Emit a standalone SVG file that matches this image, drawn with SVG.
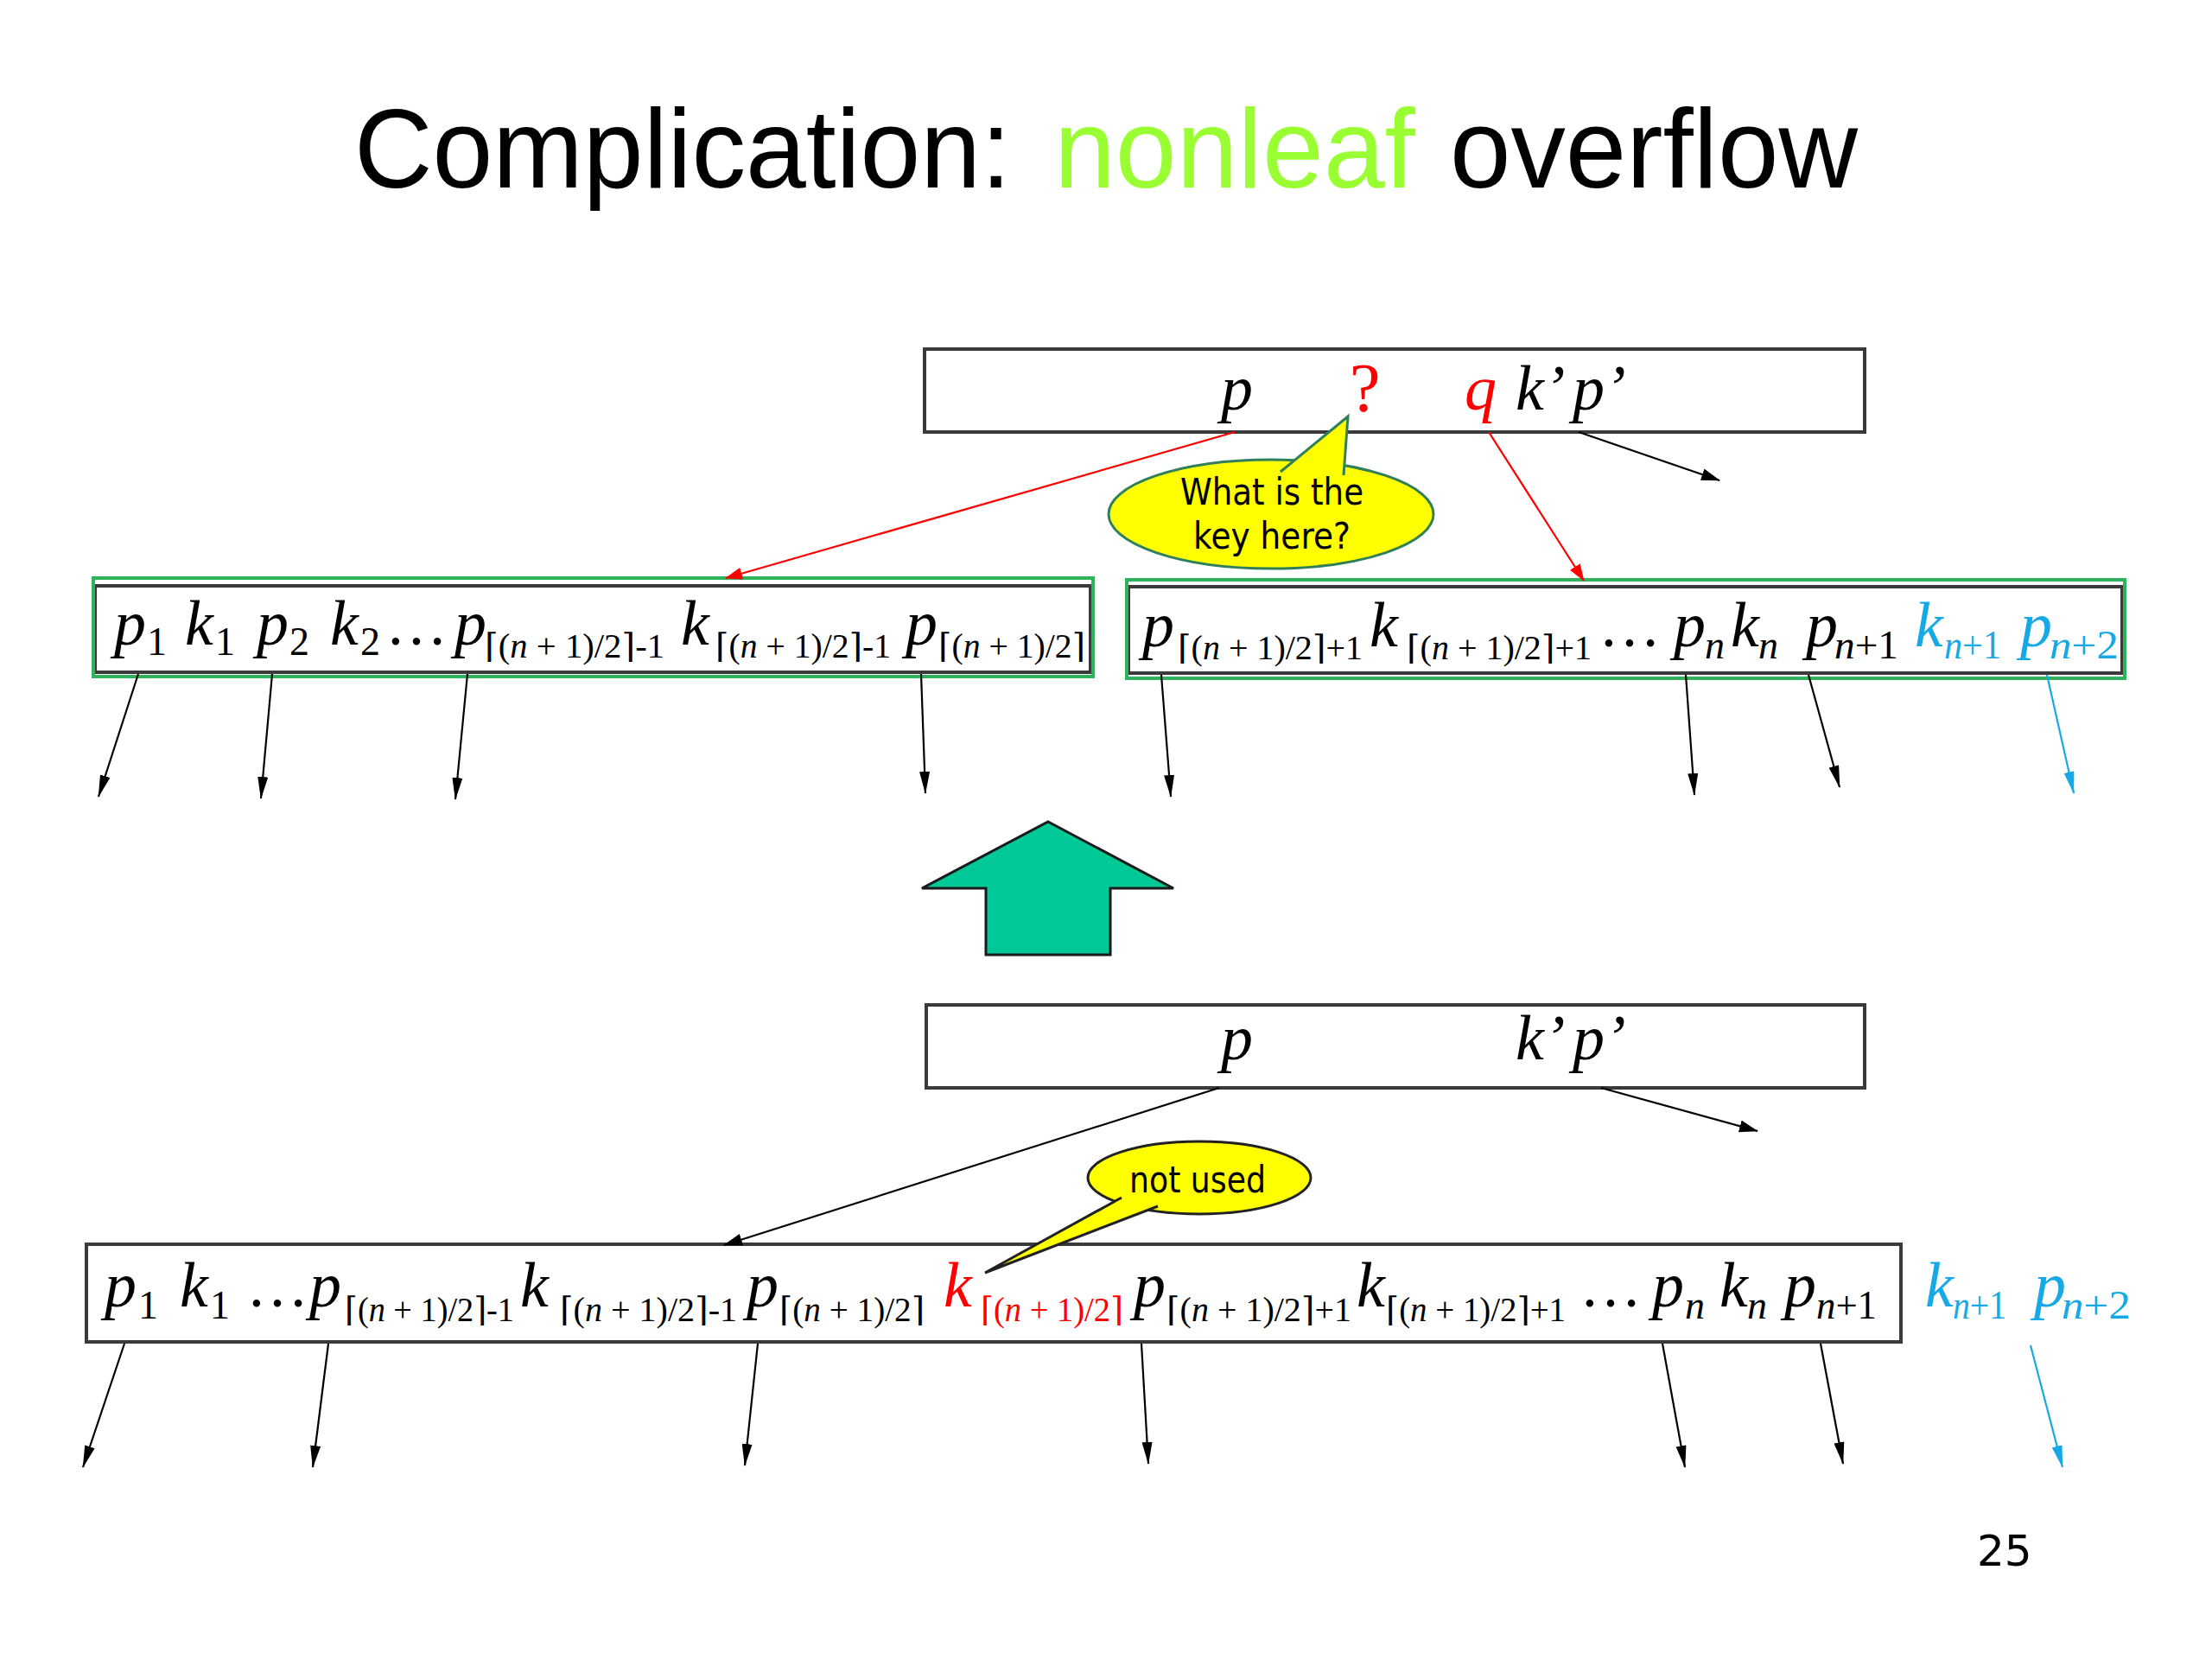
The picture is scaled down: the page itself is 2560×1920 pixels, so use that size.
<svg xmlns="http://www.w3.org/2000/svg" width="2560" height="1920" viewBox="0 0 2560 1920">
<style>
.bg{fill:#fff}
.title{font-family:"Liberation Sans","DejaVu Sans",sans-serif;font-size:130px;fill:#000}
.mi{font-family:"Liberation Serif","DejaVu Serif",serif;font-style:italic;font-size:74px;fill:#000}
.mu{font-family:"Liberation Serif","DejaVu Serif",serif;font-style:normal;font-size:72px;fill:#000}
.sb{font-family:"Liberation Serif","DejaVu Serif",serif;font-style:normal;font-size:39px;fill:#000}
.s1{font-family:"Liberation Serif","DejaVu Serif",serif;font-style:normal;font-size:46px;fill:#000}
.it{font-style:italic}
.red{fill:#ff0000}
.blue{fill:#17a9e6}
.box{fill:#fff;stroke:#3a3a3a;stroke-width:4}
.gbox{fill:none;stroke:#2db35a;stroke-width:4}
.bub{font-family:"DejaVu Sans","Noto Sans",sans-serif;font-size:43px;fill:#000}
.ln{stroke:#000;stroke-width:2.2;fill:none}
.lr{stroke:#ff0000;stroke-width:2.2;fill:none}
.lb{stroke:#17a9e6;stroke-width:2.2;fill:none}
</style>
<defs>
<marker id="ab" viewBox="0 0 26 12" refX="25" refY="6" markerWidth="26" markerHeight="12" markerUnits="userSpaceOnUse" orient="auto"><path d="M0,0 L26,6 L0,12 z" fill="#000"/></marker>
<marker id="ab2" viewBox="0 0 22 14" refX="21" refY="7" markerWidth="22" markerHeight="14" markerUnits="userSpaceOnUse" orient="auto"><path d="M0,0 L22,7 L0,14 z" fill="#000"/></marker>
<marker id="ar" viewBox="0 0 20 14" refX="19" refY="7" markerWidth="20" markerHeight="14" markerUnits="userSpaceOnUse" orient="auto"><path d="M0,0 L20,7 L0,14 z" fill="#ff0000"/></marker>
<marker id="abl" viewBox="0 0 26 12" refX="25" refY="6" markerWidth="26" markerHeight="12" markerUnits="userSpaceOnUse" orient="auto"><path d="M0,0 L26,6 L0,12 z" fill="#17a9e6"/></marker>
</defs>
<rect class="bg" x="0" y="0" width="2560" height="1920"/>

<g id="title">
<text class="title" x="410" y="217" textLength="760" lengthAdjust="spacingAndGlyphs">Complication:</text>
<text class="title" x="1220" y="217" textLength="418" lengthAdjust="spacingAndGlyphs" style="fill:#99ff33">nonleaf</text>
<text class="title" x="1678" y="217" textLength="472" lengthAdjust="spacingAndGlyphs">overflow</text>
</g>

<g id="top-parent">
<rect class="box" x="1070" y="404" width="1088" height="96"/>
<text class="mi" x="1413" y="474">p</text>
<text class="mu red" x="1562" y="476" style="font-size:80px">?</text>
<text class="mi red" x="1695" y="474">q</text>
<text class="mi" x="1754" y="474">k’</text>
<text class="mi" x="1820" y="474">p’</text>
</g>

<g id="bubble-key">
<ellipse cx="1471" cy="595" rx="188" ry="63" fill="#ffff00" stroke="#2f7f5a" stroke-width="3"/>
<path d="M1482,546 L1560,482 L1555,550" fill="#ffff00" stroke="#2f7f5a" stroke-width="3"/>
<text class="bub" x="1366" y="584" textLength="212" lengthAdjust="spacingAndGlyphs">What is the</text>
<text class="bub" x="1381" y="635" textLength="182" lengthAdjust="spacingAndGlyphs">key here?</text>
</g>

<g id="mid-left">
<rect class="box" x="110" y="678" width="1152" height="100"/>
<rect class="gbox" x="108" y="669" width="1157" height="114"/>
<text class="mi" x="132" y="746">p</text><text class="s1" x="170" y="758">1</text>
<text class="mi" x="214" y="746">k</text><text class="s1" x="249" y="758">1</text>
<text class="mi" x="297" y="746">p</text><text class="s1" x="335" y="758">2</text>
<text class="mi" x="382" y="746">k</text><text class="s1" x="417" y="758">2</text>
<text class="mu" x="446" y="746">…</text>
<text class="mi" x="526" y="746">p</text><text class="sb" x="561" y="761" textLength="208" lengthAdjust="spacingAndGlyphs">⌈(<tspan class="it">n</tspan> + 1)/2⌉-1</text>
<text class="mi" x="788" y="746">k</text><text class="sb" x="828" y="761" textLength="203" lengthAdjust="spacingAndGlyphs">⌈(<tspan class="it">n</tspan> + 1)/2⌉-1</text>
<text class="mi" x="1048" y="746">p</text><text class="sb" x="1086" y="761" textLength="170" lengthAdjust="spacingAndGlyphs">⌈(<tspan class="it">n</tspan> + 1)/2⌉</text>
</g>

<g id="mid-right">
<rect class="box" x="1306" y="679" width="1150" height="100"/>
<rect class="gbox" x="1304" y="671" width="1155" height="114"/>
<text class="mi" x="1322" y="748">p</text><text class="sb" x="1363" y="763" textLength="214" lengthAdjust="spacingAndGlyphs">⌈(<tspan class="it">n</tspan> + 1)/2⌉+1</text>
<text class="mi" x="1585" y="748">k</text><text class="sb" x="1628" y="763" textLength="214" lengthAdjust="spacingAndGlyphs">⌈(<tspan class="it">n</tspan> + 1)/2⌉+1</text>
<text class="mu" x="1850" y="748">…</text>
<text class="mi" x="1937" y="748">p</text><text class="s1 it" x="1973" y="762">n</text>
<text class="mi" x="2003" y="748">k</text><text class="s1 it" x="2035" y="762">n</text>
<text class="mi" x="2090" y="748">p</text><text class="s1" x="2123" y="762" textLength="74" lengthAdjust="spacingAndGlyphs"><tspan class="it">n</tspan>+1</text>
<text class="mi blue" x="2216" y="748">k</text><text class="s1 blue" x="2250" y="762" textLength="66" lengthAdjust="spacingAndGlyphs"><tspan class="it">n</tspan>+1</text>
<text class="mi blue" x="2338" y="748">p</text><text class="s1 blue" x="2372" y="762" textLength="80" lengthAdjust="spacingAndGlyphs"><tspan class="it">n</tspan>+2</text>
</g>

<g id="up-arrow">
<polygon points="1213,951 1358,1028 1285,1028 1285,1105 1141,1105 1141,1028 1067,1028" fill="#00c896" stroke="#1a1a1a" stroke-width="3" stroke-linejoin="miter"/>
</g>

<g id="bottom-parent">
<rect class="box" x="1072" y="1163" width="1086" height="96"/>
<text class="mi" x="1413" y="1226">p</text>
<text class="mi" x="1754" y="1226">k’</text>
<text class="mi" x="1820" y="1226">p’</text>
</g>

<g id="bottom-node">
<rect class="box" x="100" y="1440" width="2100" height="113"/>
<text class="mi" x="121" y="1512">p</text><text class="s1" x="160" y="1526">1</text>
<text class="mi" x="208" y="1512">k</text><text class="s1" x="243" y="1526">1</text>
<text class="mu" x="285" y="1512">…</text>
<text class="mi" x="358" y="1512">p</text><text class="sb" x="399" y="1529" textLength="196" lengthAdjust="spacingAndGlyphs">⌈(<tspan class="it">n</tspan> + 1)/2⌉-1</text>
<text class="mi" x="602" y="1512">k</text><text class="sb" x="648" y="1529" textLength="205" lengthAdjust="spacingAndGlyphs">⌈(<tspan class="it">n</tspan> + 1)/2⌉-1</text>
<text class="mi" x="864" y="1512">p</text><text class="sb" x="902" y="1529" textLength="168" lengthAdjust="spacingAndGlyphs">⌈(<tspan class="it">n</tspan> + 1)/2⌉</text>
<text class="mi red" x="1092" y="1512">k</text><text class="sb red" x="1135" y="1529" textLength="165" lengthAdjust="spacingAndGlyphs">⌈(<tspan class="it">n</tspan> + 1)/2⌉</text>
<text class="mi" x="1312" y="1512">p</text><text class="sb" x="1350" y="1529" textLength="214" lengthAdjust="spacingAndGlyphs">⌈(<tspan class="it">n</tspan> + 1)/2⌉+1</text>
<text class="mi" x="1570" y="1512">k</text><text class="sb" x="1604" y="1529" textLength="208" lengthAdjust="spacingAndGlyphs">⌈(<tspan class="it">n</tspan> + 1)/2⌉+1</text>
<text class="mu" x="1828" y="1512">…</text>
<text class="mi" x="1912" y="1512">p</text><text class="s1 it" x="1950" y="1526">n</text>
<text class="mi" x="1990" y="1512">k</text><text class="s1 it" x="2022" y="1526">n</text>
<text class="mi" x="2065" y="1512">p</text><text class="s1" x="2102" y="1526" textLength="70" lengthAdjust="spacingAndGlyphs"><tspan class="it">n</tspan>+1</text>
</g>

<g id="overflow-keys">
<text class="mi blue" x="2228" y="1512">k</text><text class="s1 blue" x="2260" y="1526" textLength="62" lengthAdjust="spacingAndGlyphs"><tspan class="it">n</tspan>+1</text>
<text class="mi blue" x="2354" y="1512">p</text><text class="s1 blue" x="2386" y="1526" textLength="80" lengthAdjust="spacingAndGlyphs"><tspan class="it">n</tspan>+2</text>
</g>

<g id="bubble-notused">
<ellipse cx="1388" cy="1363" rx="129" ry="42" fill="#ffff00" stroke="#222" stroke-width="3"/>
<path d="M1298,1386 L1140,1473 L1340,1396" fill="#ffff00" stroke="#222" stroke-width="3"/>
<text class="bub" x="1307" y="1380" textLength="158" lengthAdjust="spacingAndGlyphs">not used</text>
</g>

<g id="connectors">
<line class="lr" x1="1429" y1="500" x2="840" y2="669" marker-end="url(#ar)"/>
<line class="lr" x1="1723" y1="500" x2="1833" y2="672" marker-end="url(#ar)"/>
<line class="ln" x1="1827" y1="500" x2="1990" y2="556" marker-end="url(#ab2)"/>

<line class="ln" x1="160" y1="780" x2="114" y2="922" marker-end="url(#ab)"/>
<line class="ln" x1="315" y1="780" x2="302" y2="924" marker-end="url(#ab)"/>
<line class="ln" x1="541" y1="780" x2="527" y2="925" marker-end="url(#ab)"/>
<line class="ln" x1="1066" y1="780" x2="1071" y2="918" marker-end="url(#ab)"/>
<line class="ln" x1="1344" y1="781" x2="1355" y2="922" marker-end="url(#ab)"/>
<line class="ln" x1="1951" y1="781" x2="1961" y2="920" marker-end="url(#ab)"/>
<line class="ln" x1="2093" y1="781" x2="2129" y2="911" marker-end="url(#ab)"/>
<line class="lb" x1="2369" y1="781" x2="2400" y2="918" marker-end="url(#abl)"/>

<line class="ln" x1="1411" y1="1259" x2="838" y2="1441" marker-end="url(#ab2)"/>
<line class="ln" x1="1853" y1="1259" x2="2034" y2="1309" marker-end="url(#ab2)"/>

<line class="ln" x1="144" y1="1555" x2="96" y2="1698" marker-end="url(#ab)"/>
<line class="ln" x1="380" y1="1555" x2="362" y2="1698" marker-end="url(#ab)"/>
<line class="ln" x1="877" y1="1555" x2="862" y2="1696" marker-end="url(#ab)"/>
<line class="ln" x1="1321" y1="1555" x2="1329" y2="1694" marker-end="url(#ab)"/>
<line class="ln" x1="1924" y1="1555" x2="1950" y2="1698" marker-end="url(#ab)"/>
<line class="ln" x1="2107" y1="1555" x2="2133" y2="1694" marker-end="url(#ab)"/>
<line class="lb" x1="2350" y1="1557" x2="2387" y2="1698" marker-end="url(#abl)"/>
</g>

<g id="page-number">
<text x="2288" y="1812" font-family="DejaVu Sans, sans-serif" font-size="50" fill="#000">25</text>
</g>
</svg>
